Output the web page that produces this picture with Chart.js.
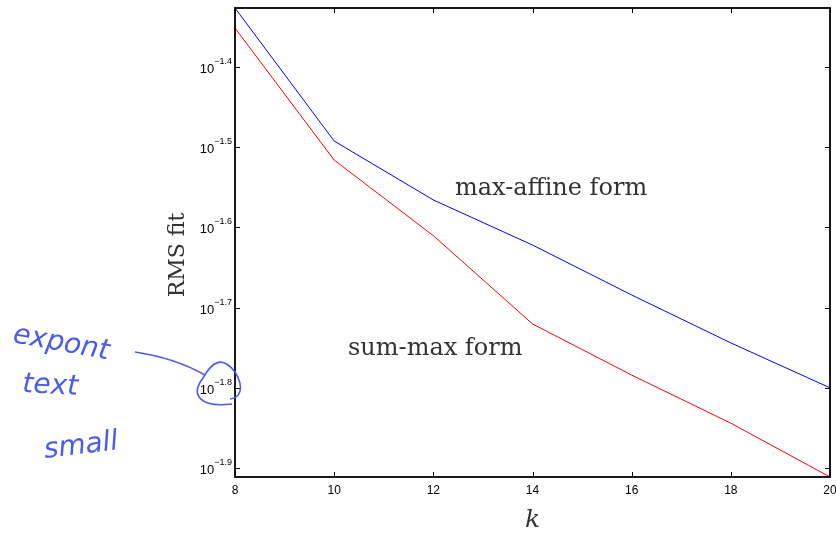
<!DOCTYPE html>
<html>
<head>
<meta charset="utf-8">
<script src="https://cdn.jsdelivr.net/npm/chart.js@4.4.1/dist/chart.umd.min.js"></script>
<style>
  html, body { margin: 0; padding: 0; background: #fff; }
  #wrap { width: 836px; height: 535px; }
</style>
</head>
<body>
<div id="wrap"><canvas id="rmsChart" width="836" height="535"></canvas></div>
<script>
// Valores
const kValues = [8, 10, 12, 14, 16, 18, 20];
const maxAffine = [0.04716, 0.03219, 0.02718, 0.02388, 0.02069, 0.01803, 0.01585];
const sumMax = [0.04452, 0.03048, 0.02453, 0.01904, 0.01644, 0.01432, 0.01227];

// Marcas dos eixos
const xTicks = [8, 10, 12, 14, 16, 18, 20];
const yTickExps = [-1.4, -1.5, -1.6, -1.7, -1.8, -1.9];

const textColor = '#333333';
const noteColor = '#4b5bf0';
const serifFont = '"DejaVu Serif", "Liberation Serif", serif';

// Plugin que desenha a moldura, as marcas e os textos
const frameAndLabels = {
    id: 'frameAndLabels',
    afterDraw(chart) {
        const ctx = chart.ctx;
        const area = chart.chartArea;
        const xs = chart.scales.x;
        const ys = chart.scales.y;
        ctx.save();

        // Marcas internas
        ctx.strokeStyle = '#000';
        ctx.lineWidth = 1;
        const tl = 5;
        xTicks.forEach(t => {
            const px = Math.round(xs.getPixelForValue(t)) + 0.5;
            ctx.beginPath();
            ctx.moveTo(px, area.bottom);
            ctx.lineTo(px, area.bottom - tl);
            ctx.moveTo(px, area.top);
            ctx.lineTo(px, area.top + tl);
            ctx.stroke();
        });
        yTickExps.forEach(e => {
            const py = Math.round(ys.getPixelForValue(Math.pow(10, e))) + 0.5;
            ctx.beginPath();
            ctx.moveTo(area.left, py);
            ctx.lineTo(area.left + tl, py);
            ctx.moveTo(area.right, py);
            ctx.lineTo(area.right - tl, py);
            ctx.stroke();
        });

        // Moldura
        ctx.lineWidth = 1.8;
        ctx.strokeRect(area.left, area.top, area.right - area.left, area.bottom - area.top);

        // Rótulos do eixo x
        ctx.fillStyle = '#000';
        ctx.font = '12px "Liberation Sans", Arial, sans-serif';
        ctx.textAlign = 'center';
        ctx.textBaseline = 'alphabetic';
        xTicks.forEach(t => {
            ctx.fillText(String(t), xs.getPixelForValue(t), area.bottom + 17);
        });

        // Rótulos do eixo y (10 com expoente)
        yTickExps.forEach(e => {
            const py = ys.getPixelForValue(Math.pow(10, e));
            const expText = '\u2212' + Math.abs(e).toFixed(1);
            ctx.font = '9px "Liberation Sans", Arial, sans-serif';
            const ew = ctx.measureText(expText).width;
            ctx.textAlign = 'right';
            ctx.fillText(expText, area.left - 3, py - 3);
            ctx.font = '13px "Liberation Sans", Arial, sans-serif';
            ctx.fillText('10', area.left - 3 - ew, py + 6);
        });

        // Títulos dos eixos
        ctx.fillStyle = textColor;
        ctx.font = 'italic 25px ' + serifFont;
        ctx.textAlign = 'center';
        ctx.fillText('k', (area.left + area.right) / 2, 527);

        ctx.save();
        ctx.translate(184, 255);
        ctx.rotate(-Math.PI / 2);
        ctx.font = '22px ' + serifFont;
        ctx.fillText('RMS fit', 0, 0);
        ctx.restore();

        // Legendas nas curvas
        ctx.font = '24px ' + serifFont;
        ctx.textAlign = 'left';
        ctx.fillText('max-affine form', 455, 195);
        ctx.fillText('sum-max form', 348, 355);

        // Anotação manuscrita
        ctx.strokeStyle = noteColor;
        ctx.fillStyle = noteColor;
        ctx.lineWidth = 1.6;
        ctx.beginPath();
        ctx.moveTo(135, 352);
        ctx.quadraticCurveTo(175, 358, 205, 375);
        ctx.stroke();
        ctx.beginPath();
        ctx.moveTo(232, 404);
        ctx.bezierCurveTo(200, 408, 190, 395, 203, 378);
        ctx.bezierCurveTo(212, 362, 222, 355, 235, 372);
        ctx.bezierCurveTo(245, 388, 240, 398, 230, 399);
        ctx.stroke();

        ctx.font = 'italic 28px "DejaVu Sans", sans-serif';
        const notes = [['expont', 12, 342, 0.18], ['text', 22, 392, 0.05], ['small', 45, 458, -0.12]];
        notes.forEach(n => {
            ctx.save();
            ctx.translate(n[1], n[2]);
            ctx.rotate(n[3]);
            ctx.fillText(n[0], 0, 0);
            ctx.restore();
        });

        ctx.restore();
    }
};

const ctx = document.getElementById('rmsChart').getContext('2d');
new Chart(ctx, {
    type: 'line',
    data: {
        datasets: [{
            label: 'max-affine form',
            data: kValues.map((k, i) => ({ x: k, y: maxAffine[i] })),
            borderColor: '#0000ff',
            borderWidth: 1,
            pointRadius: 0,
            tension: 0
        }, {
            label: 'sum-max form',
            data: kValues.map((k, i) => ({ x: k, y: sumMax[i] })),
            borderColor: '#ff0000',
            borderWidth: 1,
            pointRadius: 0,
            tension: 0
        }]
    },
    options: {
        responsive: false,
        animation: false,
        events: [],
        layout: {
            padding: { left: 235, top: 8, right: 6, bottom: 58 }
        },
        plugins: {
            legend: { display: false },
            tooltip: { enabled: false }
        },
        scales: {
            x: {
                type: 'linear',
                min: 8,
                max: 20,
                display: false
            },
            y: {
                type: 'logarithmic',
                min: Math.min(...sumMax),
                max: Math.max(...maxAffine),
                display: false
            }
        }
    },
    plugins: [frameAndLabels]
});
</script>
</body>
</html>
